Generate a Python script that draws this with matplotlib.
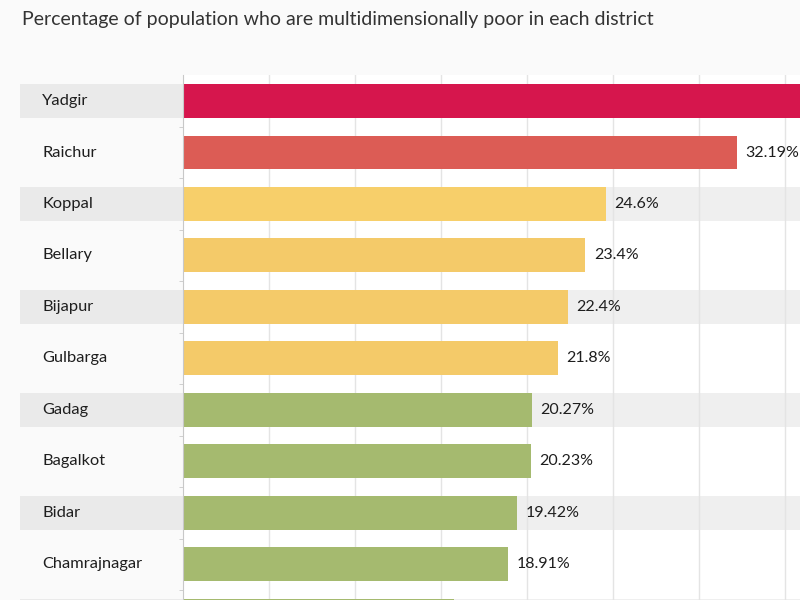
import matplotlib.pyplot as plt
import matplotlib.transforms as mtrans
import numpy as np

districts = ["Yadgir", "Raichur", "Koppal", "Bellary", "Bijapur", "Gulbarga",
             "Gadag", "Bagalkot", "Bidar", "Chamrajnagar", "Haveri"]
values = [38.0, 32.19, 24.6, 23.4, 22.4, 21.8, 20.27, 20.23, 19.42, 18.91, 15.76]
labels = ["", "32.19%", "24.6%", "23.4%", "22.4%", "21.8%", "20.27%", "20.23%",
          "19.42%", "18.91%", "15.76%"]
colors = ["#d6164d", "#dc5c55", "#f7cf6a", "#f4ca69", "#f4ca69", "#f4ca69",
          "#a5ba6f", "#a5ba6f", "#a5ba6f", "#a5ba6f", "#a5ba6f"]

plt.rcParams["font.family"] = ["Lato", "DejaVu Sans"]

fig = plt.figure(figsize=(8, 6), dpi=100, facecolor="#fafafa")
ax = fig.add_axes([183 / 800, 0, 1 - 183 / 800, 1 - 75 / 600])
ax.set_facecolor("white")

y = np.arange(len(districts))
YMAX = 9.69  # chart continues below the visible crop

# alternating row bands
for i in y[::2]:
    ax.axhspan(i - 0.33, i + 0.33, color="#efefef", zorder=0, lw=0)

for gx in range(5, 40, 5):
    ax.axvline(gx, color="#e4e4e4", lw=1, zorder=0.5)

ax.barh(y, values, height=0.66, color=colors, zorder=2)

tr = mtrans.blended_transform_factory(fig.transFigure, ax.transData)
for i, (name, v, lab) in enumerate(zip(districts, values, labels)):
    if i % 2 == 0:
        ax.add_patch(plt.Rectangle((20 / 800, i - 0.33), 163 / 800, 0.66,
                                   transform=tr, color="#eaeaea", lw=0,
                                   clip_on=False, zorder=0))
    if i > YMAX - 0.2:   # row is only partly visible, its texts fall below the crop
        continue
    ax.text(42 / 800, i, name, transform=tr, va="center", ha="left",
            fontsize=11.8, color="#1e1e1e")
    ax.annotate(lab, (v, i), xytext=(6, 0), textcoords="offset points",
                va="center", ha="left", fontsize=11.5, color="#1e1e1e",
                annotation_clip=False)

for s in ["top", "right", "bottom"]:
    ax.spines[s].set_visible(False)
ax.spines["left"].set_color("#c8c8c8")
ax.set_xticks([])
ax.set_yticks([])
ax.set_yticks(y + 0.5, minor=True)
ax.tick_params(axis="y", which="minor", length=3, color="#c8c8c8", labelleft=False)

ax.set_xlim(0, 617 / 17.2)
ax.set_ylim(YMAX, -0.505)

fig.text(22 / 800, 1 - 20 / 600, "Percentage of population who are multidimensionally poor in each district",
         ha="left", va="center", fontsize=14, color="#333333")

fig.savefig("out.png", dpi=100, facecolor=fig.get_facecolor())
